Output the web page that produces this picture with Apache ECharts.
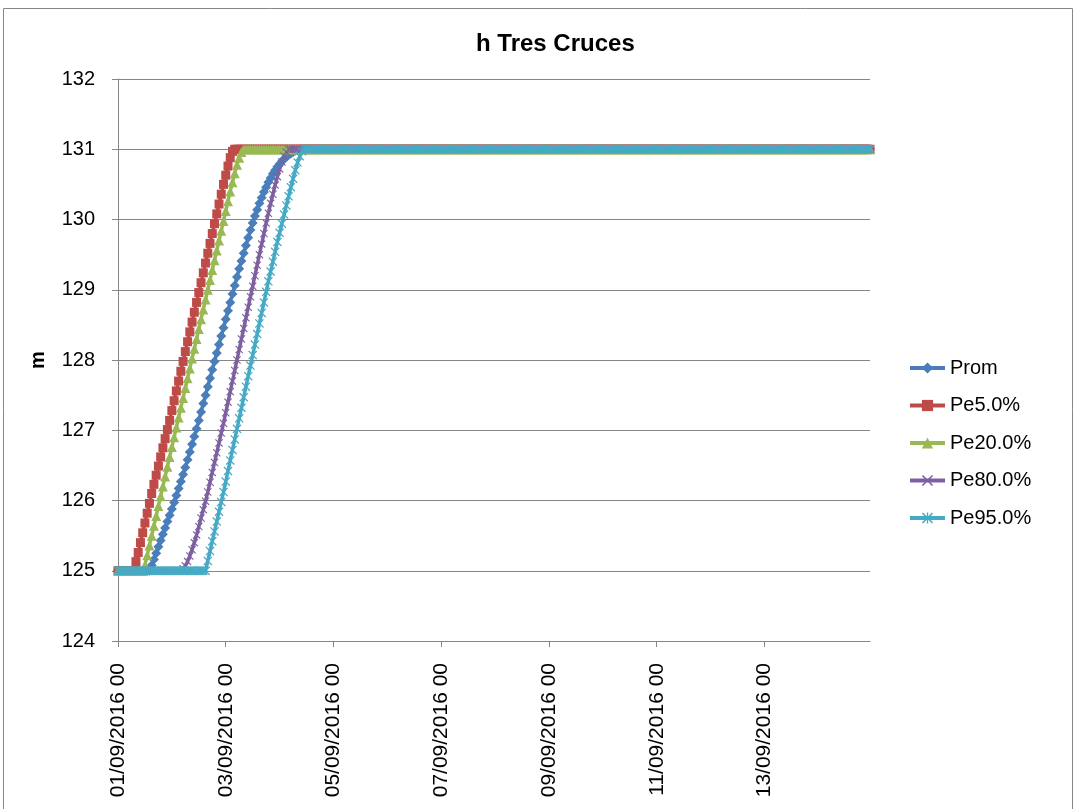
<!DOCTYPE html>
<html>
<head>
<meta charset="utf-8">
<script src="https://cdn.jsdelivr.net/npm/echarts@6/dist/echarts.min.js"></script>
<style>
  html, body { margin: 0; padding: 0; background: #fff; }
  #charts { width: 1076px; height: 809px; }
</style>
</head>
<body>
<div id="charts"></div>
<script>
var myChart = echarts.init(document.getElementById('charts'));

// hourly categories, 01/09/2016 00 .. 14/09/2016 23
var categories = [];
for (var d = 1; d <= 14; d++) {
	for (var h = 0; h < 24; h++) {
		categories.push((d < 10 ? '0' + d : d) + '/09/2016 ' + (h < 10 ? '0' + h : h));
	}
}

var seriesNames = ['Prom', 'Pe5.0%', 'Pe20.0%', 'Pe80.0%', 'Pe95.0%'];
var levelLow = 125, levelHigh = 131;

// index of the first rising value, then the rising values
var promStart = 15;
var promRise = [125.08, 125.16, 125.25, 125.34, 125.43, 125.52, 125.61, 125.70, 125.79, 125.88,
	125.97, 126.07, 126.17, 126.27, 126.37, 126.47, 126.58, 126.69, 126.80, 126.91,
	127.02, 127.14, 127.26, 127.38, 127.50, 127.62, 127.74, 127.86, 127.98, 128.10,
	128.22, 128.34, 128.46, 128.58, 128.70, 128.82, 128.94, 129.06, 129.18, 129.30,
	129.41, 129.52, 129.63, 129.74, 129.85, 129.95, 130.05, 130.14, 130.23, 130.31,
	130.39, 130.46, 130.53, 130.59, 130.65, 130.70, 130.75, 130.79, 130.83, 130.86,
	130.89, 130.92, 130.94, 130.96, 130.98, 130.99];

var pe5Start = 8;
var pe5Rise = [125.13, 125.26, 125.40, 125.54, 125.68, 125.82, 125.96, 126.10, 126.23, 126.36,
	126.49, 126.62, 126.75, 126.88, 127.01, 127.14, 127.28, 127.42, 127.56, 127.70,
	127.84, 127.98, 128.12, 128.26, 128.40, 128.54, 128.68, 128.82, 128.96, 129.10,
	129.24, 129.38, 129.52, 129.66, 129.80, 129.94, 130.08, 130.22, 130.36, 130.50,
	130.63, 130.76, 130.88, 130.97];

var pe20Start = 12;
var pe20Rise = [125.08, 125.22, 125.36, 125.50, 125.64, 125.78, 125.92, 126.06, 126.20, 126.34,
	126.48, 126.62, 126.76, 126.90, 127.04, 127.18, 127.32, 127.46, 127.60, 127.74,
	127.88, 128.02, 128.16, 128.30, 128.44, 128.58, 128.72, 128.86, 129.00, 129.14,
	129.28, 129.42, 129.56, 129.70, 129.84, 129.98, 130.12, 130.26, 130.40, 130.53,
	130.66, 130.78, 130.88, 130.96];

var pe80Start = 29;
var pe80Rise = [125.03, 125.07, 125.13, 125.21, 125.30, 125.40, 125.51, 125.63, 125.75, 125.87,
	125.99, 126.12, 126.26, 126.40, 126.54, 126.68, 126.82, 126.96, 127.10, 127.25,
	127.40, 127.55, 127.70, 127.85, 128.00, 128.15, 128.30, 128.45, 128.60, 128.75,
	128.90, 129.05, 129.20, 129.35, 129.50, 129.65, 129.80, 129.95, 130.09, 130.23,
	130.36, 130.49, 130.61, 130.72, 130.82, 130.90, 130.96];

var pe95Start = 40;
var pe95Rise = [125.14, 125.28, 125.42, 125.56, 125.70, 125.84, 125.98, 126.12, 126.27, 126.42,
	126.57, 126.72, 126.87, 127.02, 127.17, 127.32, 127.47, 127.62, 127.77, 127.92,
	128.07, 128.22, 128.37, 128.52, 128.67, 128.82, 128.97, 129.12, 129.26, 129.40,
	129.54, 129.68, 129.81, 129.94, 130.07, 130.20, 130.33, 130.46, 130.58, 130.70,
	130.81, 130.90, 130.97];

var yTicks = [124, 125, 126, 127, 128, 129, 130, 131, 132];

// flat at 125 before the rise, flat at 131 after it
function buildSeries(start, rise){
	var out = [];
	for (var i = 0; i < start; i++) out.push(levelLow);
	out = out.concat(rise);
	while (out.length < categories.length) out.push(levelHigh);
	return out;
}

var colors = ['#4A7EBB', '#BE4B48', '#98B954', '#7D60A0', '#46AAC5'];
var symbols = [
	'path://M5,0 L10,5 L5,10 L0,5 Z',
	'rect',
	'triangle',
	'path://M0,1 L1,0 L5,4 L9,0 L10,1 L6,5 L10,9 L9,10 L5,6 L1,10 L0,9 L4,5 Z',
	'path://M0,1 L1,0 L5,4 L9,0 L10,1 L6,5 L10,9 L9,10 L5,6 L1,10 L0,9 L4,5 Z M4.4,0 L5.6,0 L5.6,10 L4.4,10 Z'
];
var symbolSizes = [10, 9, 10, 8, 9];
var allData = [
	buildSeries(promStart, promRise),
	buildSeries(pe5Start, pe5Rise),
	buildSeries(pe20Start, pe20Rise),
	buildSeries(pe80Start, pe80Rise),
	buildSeries(pe95Start, pe95Rise)
];

var font = 'Liberation Sans';
var gray = '#868686';

var option = {
	animation: false,
	backgroundColor: '#fff',
	color: colors,
	title: {
		text: 'h Tres Cruces',
		left: 471,
		top: 27,
		textStyle: { fontFamily: font, fontSize: 24, fontWeight: 'bold', color: '#000' }
	},
	graphic: [{
		type: 'rect',
		shape: { x: 3.5, y: 8.5, width: 1069, height: 840 },
		style: { fill: 'none', stroke: gray, lineWidth: 1 },
		silent: true
	}],
	legend: {
		orient: 'vertical',
		left: 903,
		top: 353,
		itemWidth: 35,
		itemHeight: 14,
		itemGap: 17.5,
		data: seriesNames,
		lineStyle: { width: 4 },
		textStyle: { fontFamily: font, fontSize: 20, lineHeight: 20, color: '#000' }
	},
	grid: {
		left: 118,
		right: 206,
		top: 79,
		bottom: 168,
		outerBoundsMode: 'none',
		containLabel: false
	},
	xAxis: {
		type: 'category',
		data: categories,
		boundaryGap: false,
		axisLine: { lineStyle: { color: gray, width: 1 } },
		axisTick: { interval: 47, length: 6, lineStyle: { color: gray } },
		axisLabel: {
			interval: 47,
			rotate: 90,
			margin: 22,
			fontFamily: font,
			fontSize: 21,
			color: '#000'
		},
		splitLine: { show: false }
	},
	yAxis: {
		type: 'value',
		min: yTicks[0],
		max: yTicks[yTicks.length - 1],
		interval: 1,
		name: 'm',
		nameLocation: 'middle',
		nameRotate: 90,
		nameGap: 70,
		nameTextStyle: { fontFamily: font, fontSize: 20, fontWeight: 'bold', color: '#000' },
		axisLine: { show: true, lineStyle: { color: gray, width: 1 } },
		axisTick: { show: true, length: 6, lineStyle: { color: gray } },
		axisLabel: { margin: 23, fontFamily: font, fontSize: 20, color: '#000' },
		splitLine: { show: true, lineStyle: { color: gray, width: 1 } }
	},
	series: seriesNames.map(function(name, k){
		return {
			name: name,
			type: 'line',
			data: allData[k],
			symbol: symbols[k],
			symbolSize: symbolSizes[k],
			showAllSymbol: true,
			lineStyle: { width: 3.5, color: colors[k] },
			itemStyle: { color: colors[k] }
		};
	})
};

myChart.setOption(option);
</script>
</body>
</html>
